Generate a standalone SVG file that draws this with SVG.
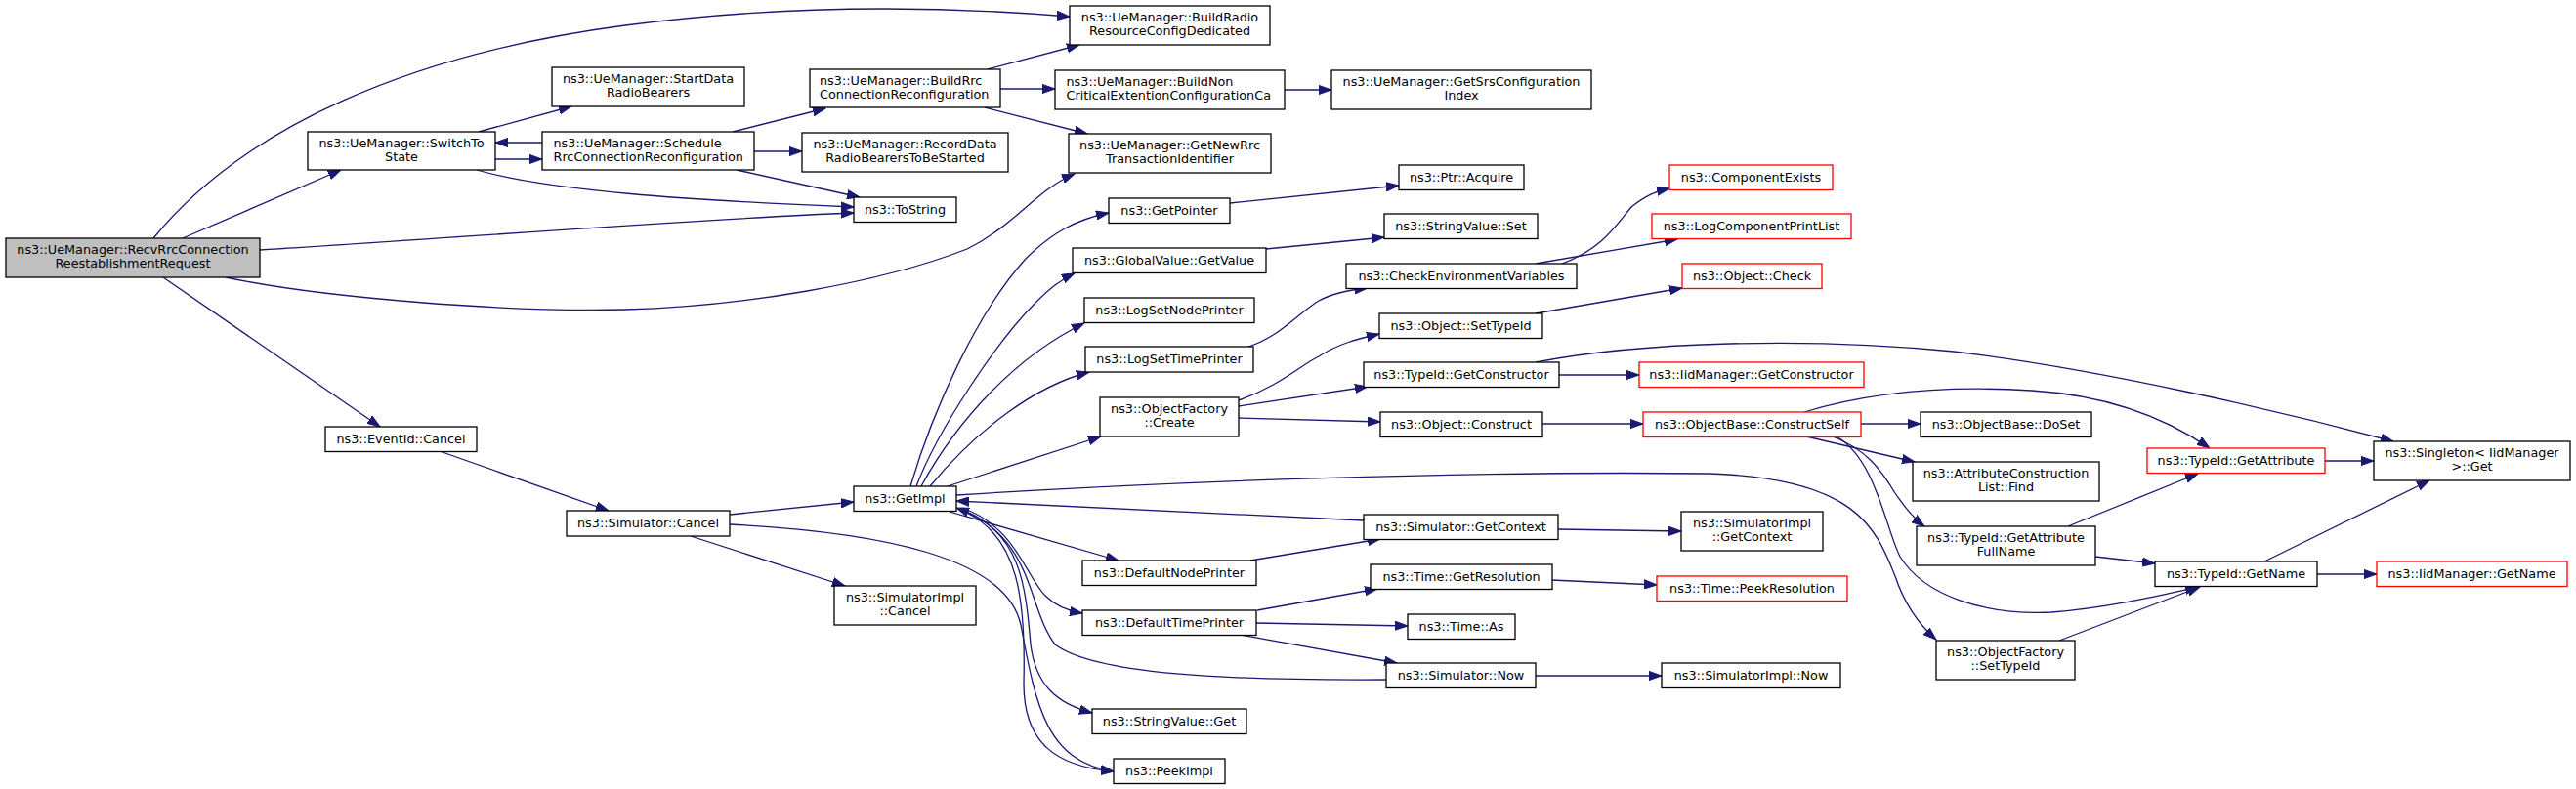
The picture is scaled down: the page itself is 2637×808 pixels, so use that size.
<svg xmlns="http://www.w3.org/2000/svg" width="2637" height="808" viewBox="0 0 2637 808">
<style>
.n rect{fill:#fff;stroke:#000;stroke-width:1.3}
.r rect{stroke:#ff0000}
.root rect{fill:#bfbfbf}
text{font-family:"DejaVu Sans","Liberation Sans",sans-serif;font-size:12.8px;fill:#000;text-anchor:middle}
text.l{text-anchor:start}
.e path{fill:none;stroke:#191970;stroke-width:1.3;marker-end:url(#a)}
</style>
<defs>
<marker id="a" markerWidth="14" markerHeight="10" refX="13" refY="5" orient="auto" markerUnits="userSpaceOnUse">
<path d="M0,0.4 L13,5 L0,9.6 z" fill="#191970" stroke="#191970" stroke-width="1"/>
</marker>
</defs>
<rect width="2637" height="808" fill="#fff"/>
<g id="edges" class="e">
<path d="M157,244 C250,130 420,55 640,26 C800,5 950,5 1095,17"/>
<path d="M187,244 L349,174"/>
<path d="M266,256 C450,245 700,225 874,218"/>
<path d="M231,284 C330,305 520,320 640,317 C760,314 900,290 990,255 C1040,230 1060,195 1100,178"/>
<path d="M167,284 L389,437"/>
<path d="M490,135 L585,109"/>
<path d="M507,163 L555,163"/>
<path d="M555,146 L507,146"/>
<path d="M488,174 C560,195 700,205 874,212"/>
<path d="M750,135 L845,111"/>
<path d="M772,155 L821,155"/>
<path d="M754,174 L880,202"/>
<path d="M1011,71 L1105,46"/>
<path d="M1024,91 L1080,91"/>
<path d="M1008,110 L1113,137"/>
<path d="M1315,92 L1363,92"/>
<path d="M932,498 C955,420 1000,320 1050,265 C1075,240 1100,225 1135,218"/>
<path d="M938,498 C960,440 1020,350 1060,310 C1075,295 1085,287 1100,280"/>
<path d="M943,498 C980,430 1040,365 1110,331"/>
<path d="M952,498 C1000,440 1060,395 1115,381"/>
<path d="M970,498 L1127,447"/>
<path d="M979,507 C1200,493 1500,482 1750,485 C1900,490 1920,540 1940,590 C1950,620 1965,640 1982,655"/>
<path d="M747,527 L874,514"/>
<path d="M707,549 L865,600"/>
<path d="M747,537 C900,545 1030,570 1045,640 C1060,720 1070,780 1140,790"/>
<path d="M972,524 L1145,574"/>
<path d="M985,520 C1040,540 1050,590 1070,610 C1080,620 1095,626 1108,628"/>
<path d="M985,522 C1045,545 1050,600 1055,660 C1060,700 1080,720 1118,730"/>
<path d="M985,523 C1045,548 1050,620 1048,700 C1048,760 1080,785 1140,790"/>
<path d="M1419,696 C1250,697 1120,690 1080,660 C1050,620 1060,550 979,520"/>
<path d="M1396,533 L979,513"/>
<path d="M1280,574 L1413,552"/>
<path d="M1595,542 L1721,544"/>
<path d="M1287,625 L1410,603"/>
<path d="M1286,638 L1441,641"/>
<path d="M1269,650 L1430,679"/>
<path d="M1588,594 L1696,599"/>
<path d="M1572,692 L1701,692"/>
<path d="M450,462 L623,523"/>
<path d="M1259,208 L1432,190"/>
<path d="M1296,255 L1417,243"/>
<path d="M1278,355 C1310,345 1330,320 1350,308 C1365,300 1380,297 1400,295"/>
<path d="M1599,270 C1640,255 1655,230 1670,212 C1685,200 1695,196 1709,193"/>
<path d="M1572,270 L1717,245"/>
<path d="M1268,410 C1310,395 1330,375 1350,365 C1370,352 1390,347 1412,342"/>
<path d="M1268,416 L1400,396"/>
<path d="M1268,428 L1413,432"/>
<path d="M1572,321 L1722,295"/>
<path d="M1596,384 L1678,384"/>
<path d="M1572,371 C1680,350 1850,345 2000,360 C2150,378 2330,420 2450,452"/>
<path d="M1579,434 L1682,434"/>
<path d="M1905,434 L1966,434"/>
<path d="M1849,447 L1960,473"/>
<path d="M1876,447 C1910,460 1925,480 1940,505 C1950,520 1958,530 1970,539"/>
<path d="M1880,447 C1920,470 1930,540 1945,570 C1970,610 2030,630 2100,627 C2160,622 2210,610 2250,601"/>
<path d="M1847,422 C1920,400 2000,395 2080,400 C2160,405 2220,430 2262,459"/>
<path d="M2380,472 L2430,472"/>
<path d="M2117,539 L2250,485"/>
<path d="M2145,570 L2206,577"/>
<path d="M2318,575 L2487,492"/>
<path d="M2372,588 L2433,588"/>
<path d="M2108,656 L2252,601"/>
</g>
<g id="n_recv" class="n root"><rect x="6" y="244" width="260" height="40"/><text x="136" y="260">ns3::UeManager::RecvRrcConnection</text><text x="136" y="274.3">ReestablishmentRequest</text></g>
<g id="n_switch" class="n"><rect x="315" y="135" width="192" height="39"/><text x="411" y="151">ns3::UeManager::SwitchTo</text><text x="411" y="165.3">State</text></g>
<g id="n_start" class="n"><rect x="565" y="69" width="197" height="40"/><text x="663.5" y="85">ns3::UeManager::StartData</text><text x="663.5" y="99.3">RadioBearers</text></g>
<g id="n_sched" class="n"><rect x="555" y="135" width="217" height="39"/><text class="l" x="566.5" y="151">ns3::UeManager::Schedule</text><text class="l" x="566.5" y="165.3">RrcConnectionReconfiguration</text></g>
<g id="n_brrcd" class="n"><rect x="1095" y="6" width="205" height="40"/><text x="1197.5" y="22">ns3::UeManager::BuildRadio</text><text x="1197.5" y="36.3">ResourceConfigDedicated</text></g>
<g id="n_brrc" class="n"><rect x="829" y="71" width="195" height="39"/><text class="l" x="839" y="87">ns3::UeManager::BuildRrc</text><text class="l" x="839" y="101.3">ConnectionReconfiguration</text></g>
<g id="n_bnc" class="n"><rect x="1080" y="72" width="235" height="40"/><text class="l" x="1091.5" y="88">ns3::UeManager::BuildNon</text><text class="l" x="1091.5" y="102.3">CriticalExtentionConfigurationCa</text></g>
<g id="n_srs" class="n"><rect x="1363" y="72" width="266" height="40"/><text x="1496" y="88">ns3::UeManager::GetSrsConfiguration</text><text x="1496" y="102.3">Index</text></g>
<g id="n_record" class="n"><rect x="821" y="136" width="211" height="40"/><text x="926.5" y="152">ns3::UeManager::RecordData</text><text x="926.5" y="166.3">RadioBearersToBeStarted</text></g>
<g id="n_newrrc" class="n"><rect x="1094" y="137" width="207" height="40"/><text x="1197.5" y="153">ns3::UeManager::GetNewRrc</text><text x="1197.5" y="167.3">TransactionIdentifier</text></g>
<g id="n_tostring" class="n"><rect x="874" y="202" width="105" height="25.5"/><text x="926.5" y="219.3">ns3::ToString</text></g>
<g id="n_getpointer" class="n"><rect x="1135" y="203" width="124" height="25.5"/><text x="1197" y="220.3">ns3::GetPointer</text></g>
<g id="n_getvalue" class="n"><rect x="1098" y="254" width="198" height="25.5"/><text x="1197" y="271.3">ns3::GlobalValue::GetValue</text></g>
<g id="n_nodeprinter" class="n"><rect x="1110" y="305" width="174" height="25.5"/><text x="1197" y="322.3">ns3::LogSetNodePrinter</text></g>
<g id="n_timeprinter" class="n"><rect x="1111" y="355" width="172" height="26"/><text x="1197" y="372.3">ns3::LogSetTimePrinter</text></g>
<g id="n_create" class="n"><rect x="1126" y="407" width="142" height="40"/><text x="1197" y="423">ns3::ObjectFactory</text><text x="1197" y="437.3">::Create</text></g>
<g id="n_getimpl" class="n"><rect x="874" y="498" width="105" height="25.5"/><text x="926.5" y="515.3">ns3::GetImpl</text></g>
<g id="n_simcancel" class="n"><rect x="580" y="523" width="167" height="26"/><text x="663.5" y="540.3">ns3::Simulator::Cancel</text></g>
<g id="n_eventcancel" class="n"><rect x="333" y="437" width="155" height="25.5"/><text x="410.5" y="454.3">ns3::EventId::Cancel</text></g>
<g id="n_simimplcancel" class="n"><rect x="854" y="600" width="145" height="40"/><text x="926.5" y="616">ns3::SimulatorImpl</text><text x="926.5" y="630.3">::Cancel</text></g>
<g id="n_defnode" class="n"><rect x="1108" y="574" width="178" height="25.5"/><text x="1197" y="591.3">ns3::DefaultNodePrinter</text></g>
<g id="n_deftime" class="n"><rect x="1108" y="625" width="178" height="25.5"/><text x="1197" y="642.3">ns3::DefaultTimePrinter</text></g>
<g id="n_svget" class="n"><rect x="1118" y="726" width="158" height="25.5"/><text x="1197" y="743.3">ns3::StringValue::Get</text></g>
<g id="n_peekimpl" class="n"><rect x="1140" y="777" width="114" height="25.5"/><text x="1197" y="794.3">ns3::PeekImpl</text></g>
<g id="n_acquire" class="n"><rect x="1432" y="169" width="128" height="25.5"/><text x="1496" y="186.3">ns3::Ptr::Acquire</text></g>
<g id="n_svset" class="n"><rect x="1417" y="219" width="157" height="25.5"/><text x="1495.5" y="236.3">ns3::StringValue::Set</text></g>
<g id="n_checkenv" class="n"><rect x="1378" y="270" width="236" height="25.5"/><text x="1496" y="287.3">ns3::CheckEnvironmentVariables</text></g>
<g id="n_settypeid" class="n"><rect x="1412" y="321" width="167" height="25.5"/><text x="1495.5" y="338.3">ns3::Object::SetTypeId</text></g>
<g id="n_getctor" class="n"><rect x="1396" y="371" width="200" height="25.5"/><text x="1496" y="388.3">ns3::TypeId::GetConstructor</text></g>
<g id="n_construct" class="n"><rect x="1413" y="422" width="166" height="25.5"/><text x="1496" y="439.3">ns3::Object::Construct</text></g>
<g id="n_getctx" class="n"><rect x="1396" y="527" width="199" height="25.5"/><text x="1495.5" y="544.3">ns3::Simulator::GetContext</text></g>
<g id="n_getres" class="n"><rect x="1403" y="578" width="186" height="25.5"/><text x="1496" y="595.3">ns3::Time::GetResolution</text></g>
<g id="n_as" class="n"><rect x="1441" y="629" width="110" height="25.5"/><text x="1496" y="646.3">ns3::Time::As</text></g>
<g id="n_now" class="n"><rect x="1419" y="679" width="153" height="25.5"/><text x="1495.5" y="696.3">ns3::Simulator::Now</text></g>
<g id="n_compexists" class="n r"><rect x="1709" y="169" width="167" height="25.5"/><text x="1792.5" y="186.3">ns3::ComponentExists</text></g>
<g id="n_logprint" class="n r"><rect x="1691" y="219" width="204" height="25.5"/><text x="1793" y="236.3">ns3::LogComponentPrintList</text></g>
<g id="n_check" class="n r"><rect x="1722" y="270" width="143" height="25.5"/><text x="1793.5" y="287.3">ns3::Object::Check</text></g>
<g id="n_iidctor" class="n r"><rect x="1678" y="371" width="230" height="25.5"/><text x="1793" y="388.3">ns3::IidManager::GetConstructor</text></g>
<g id="n_constructself" class="n r"><rect x="1682" y="422" width="223" height="25.5"/><text x="1793.5" y="439.3">ns3::ObjectBase::ConstructSelf</text></g>
<g id="n_simimplctx" class="n"><rect x="1721" y="524" width="145" height="40"/><text x="1793.5" y="540">ns3::SimulatorImpl</text><text x="1793.5" y="554.3">::GetContext</text></g>
<g id="n_peekres" class="n r"><rect x="1696" y="590" width="195" height="25.5"/><text x="1793.5" y="607.3">ns3::Time::PeekResolution</text></g>
<g id="n_simimplnow" class="n"><rect x="1701" y="679" width="183" height="25.5"/><text x="1792.5" y="696.3">ns3::SimulatorImpl::Now</text></g>
<g id="n_doset" class="n"><rect x="1966" y="422" width="175" height="25.5"/><text x="2053.5" y="439.3">ns3::ObjectBase::DoSet</text></g>
<g id="n_acfind" class="n"><rect x="1958" y="473" width="191" height="40"/><text x="2053.5" y="489">ns3::AttributeConstruction</text><text x="2053.5" y="503.3">List::Find</text></g>
<g id="n_gafn" class="n"><rect x="1962" y="539" width="183" height="40"/><text x="2053.5" y="555">ns3::TypeId::GetAttribute</text><text x="2053.5" y="569.3">FullName</text></g>
<g id="n_ofsettid" class="n"><rect x="1982" y="656" width="142" height="40"/><text x="2053" y="672">ns3::ObjectFactory</text><text x="2053" y="686.3">::SetTypeId</text></g>
<g id="n_getattr" class="n r"><rect x="2198" y="459" width="182" height="25.5"/><text x="2289" y="476.3">ns3::TypeId::GetAttribute</text></g>
<g id="n_singleton" class="n"><rect x="2430" y="452" width="201" height="40"/><text x="2530.5" y="468">ns3::Singleton&lt; IidManager</text><text x="2530.5" y="482.3">&gt;::Get</text></g>
<g id="n_getname" class="n"><rect x="2206" y="575" width="166" height="25.5"/><text x="2289" y="592.3">ns3::TypeId::GetName</text></g>
<g id="n_iidname" class="n r"><rect x="2433" y="575" width="195" height="25.5"/><text x="2530.5" y="592.3">ns3::IidManager::GetName</text></g>
</svg>
